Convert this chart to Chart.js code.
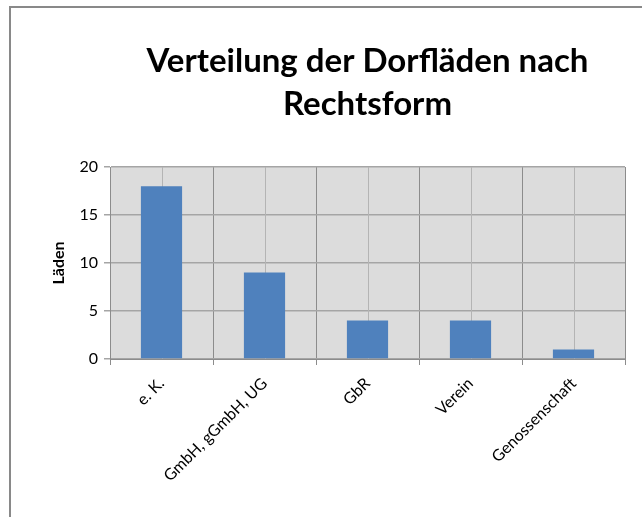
<!DOCTYPE html>
<html>
<head>
<meta charset="utf-8">
<script src="https://cdn.jsdelivr.net/npm/chart.js@4.4.1/dist/chart.umd.min.js"></script>
<style>
    html, body { margin: 0; padding: 0; background: #fff; overflow: hidden; }
    #frame {
        position: absolute;
        left: 9px;
        top: 6px;
        width: 708px;
        height: 540px;
        border: 2px solid #898989;
        background: #fff;
    }
    #chart { display: block; }
</style>
</head>
<body>
<div id="frame">
    <canvas id="chart" width="708" height="520"></canvas>
</div>
<script>
// Daten
const categories = ['e. K.', 'GmbH, gGmbH, UG', 'GbR', 'Verein', 'Genossenschaft'];
const laeden = [18, 9, 4, 4, 1];
const titleLines = ['Verteilung der Dorfläden nach', 'Rechtsform'];
const yAxisTitle = 'Läden';

const FONT = 'Lato, "Open Sans", sans-serif';

// grauer Hintergrund + Mittellinien pro Kategorie
const plotBackground = {
    id: 'plotBackground',
    beforeDraw(chart) {
        const { ctx, chartArea } = chart;
        ctx.save();
        ctx.fillStyle = '#dcdcdc';
        ctx.fillRect(chartArea.left, chartArea.top, chartArea.right - chartArea.left, chartArea.bottom - chartArea.top);
        ctx.restore();
    },
    beforeDatasetsDraw(chart) {
        const { ctx, chartArea, scales } = chart;
        ctx.save();
        ctx.strokeStyle = '#b4b4b4';
        ctx.lineWidth = 1;
        categories.forEach((c, i) => {
            const x = Math.round(scales.x.getPixelForValue(i)) + 0.5;
            ctx.beginPath();
            ctx.moveTo(x, chartArea.top);
            ctx.lineTo(x, chartArea.bottom);
            ctx.stroke();
        });
        ctx.restore();
    }
};

// Titel zentriert ueber dem Diagrammbereich
const centeredTitle = {
    id: 'centeredTitle',
    afterDraw(chart) {
        const { ctx, chartArea } = chart;
        const cx = (chartArea.left + chartArea.right) / 2;
        ctx.save();
        ctx.fillStyle = '#000';
        ctx.font = 'bold 33px ' + FONT;
        ctx.textAlign = 'center';
        ctx.textBaseline = 'alphabetic';
        titleLines.forEach((line, i) => {
            ctx.fillText(line, cx, 64 + i * 43);
        });
        ctx.restore();
    }
};

new Chart(document.getElementById('chart'), {
    type: 'bar',
    data: {
        labels: categories,
        datasets: [{
            label: yAxisTitle,
            data: laeden,
            backgroundColor: '#4f81bd',
            borderWidth: 0,
            barPercentage: 0.4,
            categoryPercentage: 1.0
        }]
    },
    options: {
        responsive: false,
        animation: false,
        devicePixelRatio: 1,
        layout: {
            padding: { top: 159, right: 94, bottom: 0, left: 0 }
        },
        plugins: {
            legend: { display: false },
            tooltip: { enabled: false }
        },
        scales: {
            x: {
                offset: true,
                grid: {
                    offset: true,
                    color: '#8c8c8c',
                    lineWidth: 1,
                    tickLength: 6
                },
                border: { color: '#8c8c8c' },
                ticks: {
                    color: '#000',
                    font: { family: FONT, size: 16 },
                    minRotation: 45,
                    maxRotation: 45,
                    padding: 9,
                    autoSkip: false
                },
                afterFit(scale) { scale.height = 169; }
            },
            y: {
                min: 0,
                max: 20,
                ticks: {
                    stepSize: 5,
                    color: '#000',
                    font: { family: FONT, size: 16 },
                    padding: 6
                },
                grid: {
                    color: '#a5a5a5',
                    lineWidth: 1.5,
                    tickLength: 6
                },
                border: { color: '#8c8c8c' },
                title: {
                    display: true,
                    text: yAxisTitle,
                    color: '#000',
                    font: { family: FONT, size: 16, weight: 'bold' },
                    padding: { top: 38, bottom: 0 }
                },
                afterFit(scale) { scale.width = 99; }
            }
        }
    },
    plugins: [plotBackground, centeredTitle]
});
</script>
</body>
</html>
